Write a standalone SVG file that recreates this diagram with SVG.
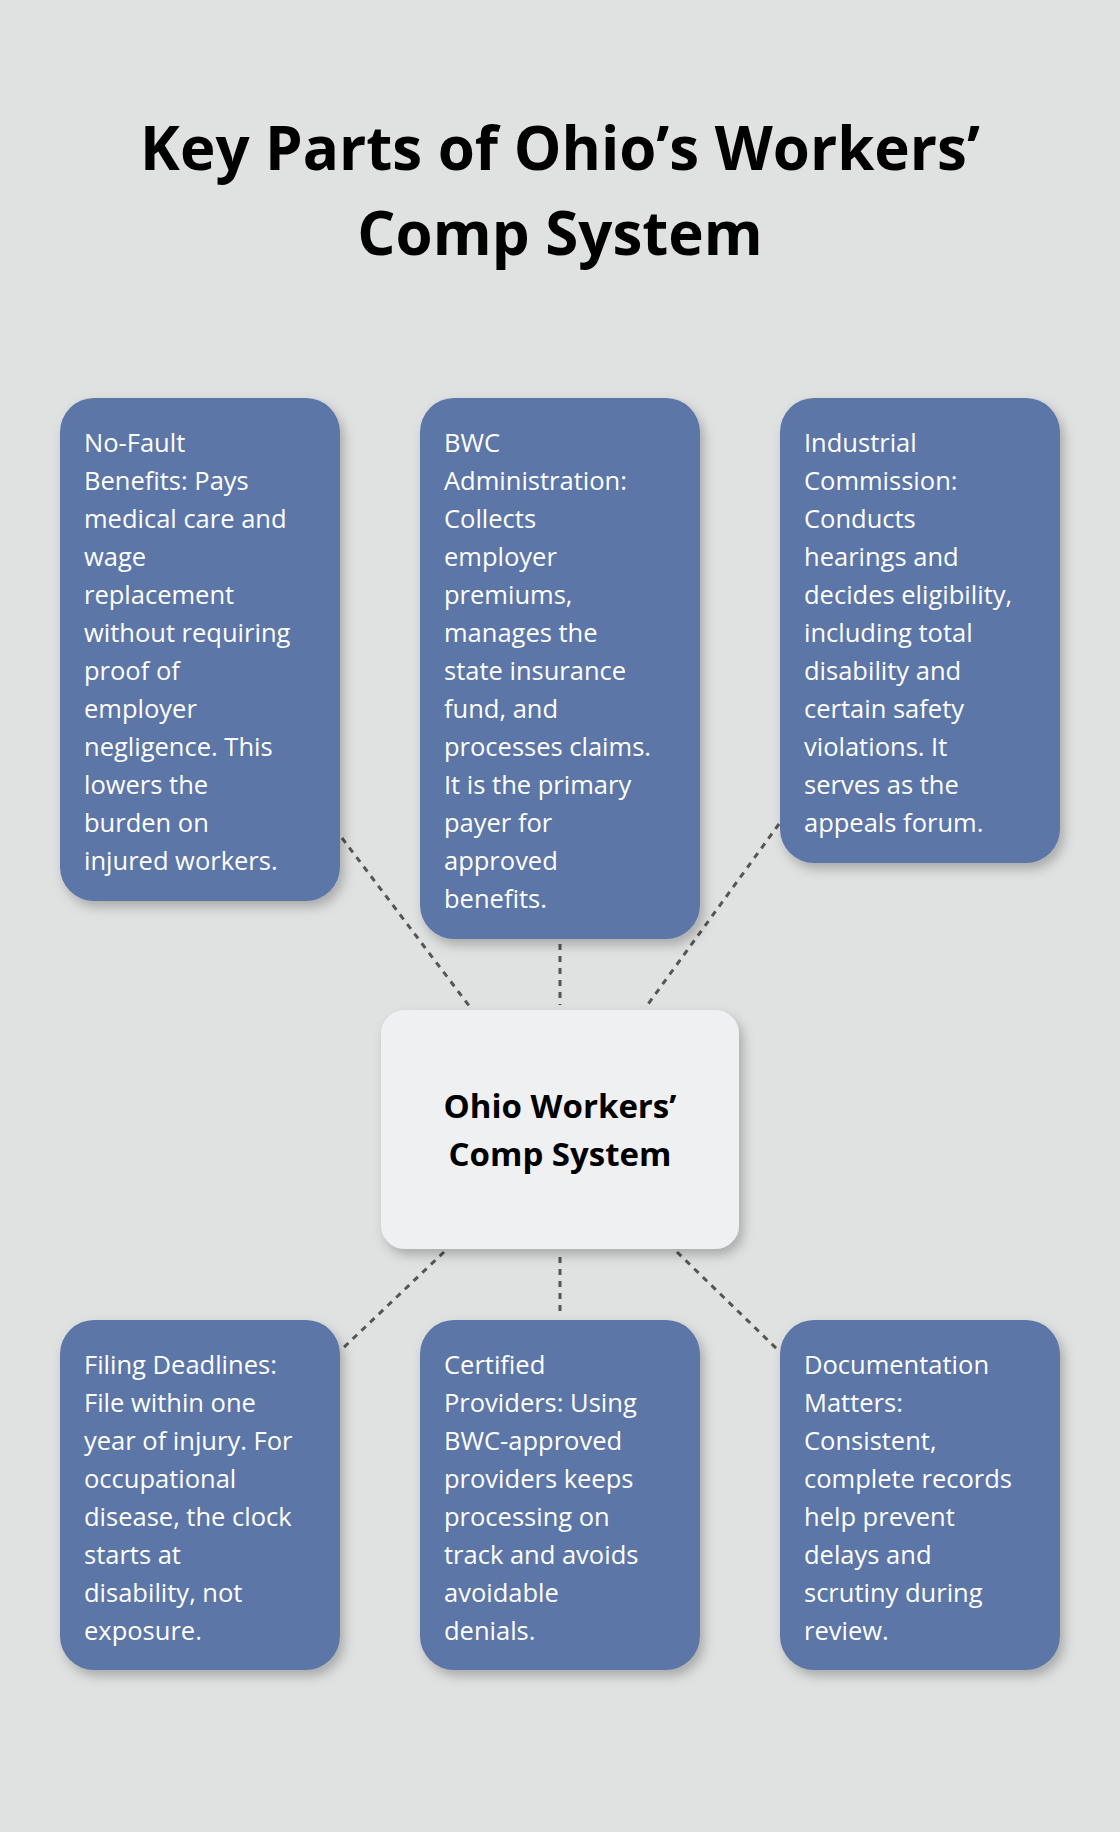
<svg xmlns="http://www.w3.org/2000/svg" width="1120" height="1832" viewBox="0 0 1120 1832">
<style>
.t{font-family:"Open Sans","Noto Sans",sans-serif;font-size:25.5px;fill:#ffffff}
.b{fill:#5b76a8;filter:url(#sh)}
.c{stroke:#555;stroke-width:3;stroke-dasharray:6,6;fill:none}
</style>
<defs><filter id="sh" x="-20%" y="-20%" width="140%" height="140%"><feDropShadow dx="4" dy="6" stdDeviation="6" flood-color="#000" flood-opacity="0.25"/></filter></defs>
<rect width="1120" height="1832" fill="#e0e2e1"/>
<g font-family="'Open Sans','Noto Sans',sans-serif" font-weight="bold" font-size="60" text-anchor="middle" fill="#000">
<text x="560" y="170">Key Parts of Ohio’s Workers’</text>
<text x="560" y="255">Comp System</text>
</g>
<g id="connectors">
<line class="c" x1="342" y1="838" x2="470" y2="1007"/>
<line class="c" x1="560" y1="944" x2="560" y2="1005"/>
<line class="c" x1="779" y1="824" x2="646" y2="1007"/>
<line class="c" x1="444" y1="1252" x2="340" y2="1351"/>
<line class="c" x1="560" y1="1257" x2="560" y2="1314"/>
<line class="c" x1="677" y1="1252" x2="779" y2="1351"/>
</g>
<g id="center">
<rect x="381" y="1010" width="358" height="239" rx="24" fill="#eff0f2" filter="url(#sh)"/>
<text x="560" y="1118" text-anchor="middle" font-family="'Open Sans','Noto Sans',sans-serif" font-weight="bold" font-size="33" fill="#000">Ohio Workers’</text>
<text x="560" y="1166" text-anchor="middle" font-family="'Open Sans','Noto Sans',sans-serif" font-weight="bold" font-size="33" fill="#000">Comp System</text>
</g>
<g id="n1"><rect class="b" x="60" y="398" width="280" height="503" rx="34"/>
<text class="t"><tspan x="84" y="452">No-Fault</tspan><tspan x="84" dy="38">Benefits: Pays</tspan><tspan x="84" dy="38">medical care and</tspan><tspan x="84" dy="38">wage</tspan><tspan x="84" dy="38">replacement</tspan><tspan x="84" dy="38">without requiring</tspan><tspan x="84" dy="38">proof of</tspan><tspan x="84" dy="38">employer</tspan><tspan x="84" dy="38">negligence. This</tspan><tspan x="84" dy="38">lowers the</tspan><tspan x="84" dy="38">burden on</tspan><tspan x="84" dy="38">injured workers.</tspan></text></g>
<g id="n2"><rect class="b" x="420" y="398" width="280" height="541" rx="34"/>
<text class="t"><tspan x="444" y="452">BWC</tspan><tspan x="444" dy="38">Administration:</tspan><tspan x="444" dy="38">Collects</tspan><tspan x="444" dy="38">employer</tspan><tspan x="444" dy="38">premiums,</tspan><tspan x="444" dy="38">manages the</tspan><tspan x="444" dy="38">state insurance</tspan><tspan x="444" dy="38">fund, and</tspan><tspan x="444" dy="38">processes claims.</tspan><tspan x="444" dy="38">It is the primary</tspan><tspan x="444" dy="38">payer for</tspan><tspan x="444" dy="38">approved</tspan><tspan x="444" dy="38">benefits.</tspan></text></g>
<g id="n3"><rect class="b" x="780" y="398" width="280" height="465" rx="34"/>
<text class="t"><tspan x="804" y="452">Industrial</tspan><tspan x="804" dy="38">Commission:</tspan><tspan x="804" dy="38">Conducts</tspan><tspan x="804" dy="38">hearings and</tspan><tspan x="804" dy="38">decides eligibility,</tspan><tspan x="804" dy="38">including total</tspan><tspan x="804" dy="38">disability and</tspan><tspan x="804" dy="38">certain safety</tspan><tspan x="804" dy="38">violations. It</tspan><tspan x="804" dy="38">serves as the</tspan><tspan x="804" dy="38">appeals forum.</tspan></text></g>
<g id="n4"><rect class="b" x="60" y="1320" width="280" height="350" rx="34"/>
<text class="t"><tspan x="84" y="1374">Filing Deadlines:</tspan><tspan x="84" dy="38">File within one</tspan><tspan x="84" dy="38">year of injury. For</tspan><tspan x="84" dy="38">occupational</tspan><tspan x="84" dy="38">disease, the clock</tspan><tspan x="84" dy="38">starts at</tspan><tspan x="84" dy="38">disability, not</tspan><tspan x="84" dy="38">exposure.</tspan></text></g>
<g id="n5"><rect class="b" x="420" y="1320" width="280" height="350" rx="34"/>
<text class="t"><tspan x="444" y="1374">Certified</tspan><tspan x="444" dy="38">Providers: Using</tspan><tspan x="444" dy="38">BWC-approved</tspan><tspan x="444" dy="38">providers keeps</tspan><tspan x="444" dy="38">processing on</tspan><tspan x="444" dy="38">track and avoids</tspan><tspan x="444" dy="38">avoidable</tspan><tspan x="444" dy="38">denials.</tspan></text></g>
<g id="n6"><rect class="b" x="780" y="1320" width="280" height="350" rx="34"/>
<text class="t"><tspan x="804" y="1374">Documentation</tspan><tspan x="804" dy="38">Matters:</tspan><tspan x="804" dy="38">Consistent,</tspan><tspan x="804" dy="38">complete records</tspan><tspan x="804" dy="38">help prevent</tspan><tspan x="804" dy="38">delays and</tspan><tspan x="804" dy="38">scrutiny during</tspan><tspan x="804" dy="38">review.</tspan></text></g>
</svg>
